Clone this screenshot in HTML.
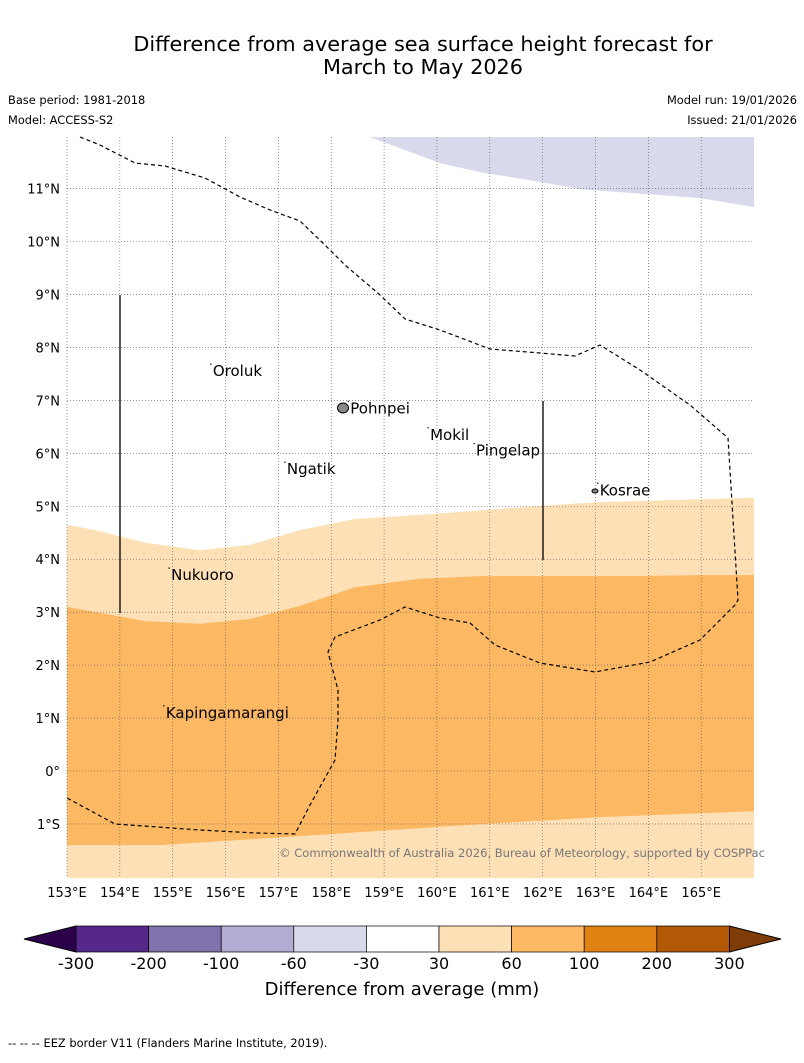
<!DOCTYPE html>
<html><head><meta charset="utf-8"><style>
body{margin:0;background:#fff;width:804px;height:1058px;overflow:hidden;font-family:"Liberation Sans","DejaVu Sans",sans-serif}
svg text{font-family:"DejaVu Sans","Liberation Sans",sans-serif}
</style></head><body>
<svg id="s" width="804" height="1058" xmlns="http://www.w3.org/2000/svg">
<text x="423" y="51" font-size="20.8" text-anchor="middle">Difference from average sea surface height forecast for</text>
<text x="423" y="74" font-size="20.8" text-anchor="middle">March to May 2026</text>
<text x="8" y="104" font-size="11.4">Base period: 1981-2018</text>
<text x="8" y="124" font-size="11.4">Model: ACCESS-S2</text>
<text x="797" y="104" font-size="11.4" text-anchor="end">Model run: 19/01/2026</text>
<text x="797" y="124" font-size="11.4" text-anchor="end">Issued: 21/01/2026</text>
<g id="map"></g>
<g id="cb"></g>
<text x="402" y="995" font-size="18" text-anchor="middle">Difference from average (mm)</text>
<text x="8" y="1047" font-size="11.4">--  --  -- EEZ border V11 (Flanders Marine Institute, 2019).</text>
</svg>
<script>
const NS="http://www.w3.org/2000/svg";
const lonTicks=[153,154,155,156,157,158,159,160,161,162,163,164,165];
const latTicks=[-1,0,1,2,3,4,5,6,7,8,9,10,11];
const purpleLon=[158.73,159.30,160.06,160.81,161.76,162.71,164.03,164.98,166];
const purpleLat=[11.97,11.76,11.48,11.31,11.16,10.99,10.89,10.82,10.65];
const lightTopLon=[153,153.53,154.48,155.52,156.46,157.41,158.45,159.87,161.19,162.14,163.09,164.60,166];
const lightTopLat=[4.65,4.55,4.31,4.17,4.27,4.55,4.76,4.85,4.95,5.02,5.08,5.12,5.16];
const medTopLon=[153,154.48,155.52,156.46,157.41,158.45,159.68,160.81,163.46,164.98,166];
const medTopLat=[3.10,2.83,2.78,2.87,3.12,3.47,3.63,3.68,3.68,3.70,3.70];
const medBotLon=[153,154.76,157.41,160.25,163.09,166];
const medBotLat=[-1.40,-1.40,-1.23,-1.04,-0.87,-0.76];
const islandNames=["Oroluk","Pohnpei","Mokil","Pingelap","Ngatik","Kosrae","Nukuoro","Kapingamarangi"];
const islandLon=[155.76,158.36,159.87,160.74,157.16,163.08,154.97,154.87];
const islandLat=[7.55,6.85,6.35,6.05,5.70,5.30,3.70,1.10];
const cbLabels=["-300","-200","-100","-60","-30","30","60","100","200","300"];
const cbColors=["#542788","#8073ac","#b2abd2","#d8daeb","#ffffff","#fee0b6","#fdb863","#e08214","#b35806"];
const L=67,R=754,T=137,B=878;
const X=lon=>L+(lon-153)*52.85, Y=lat=>771-lat*52.95;
const map=document.getElementById('map'), cb=document.getElementById('cb');
function el(t,a,p){const e=document.createElementNS(NS,t);for(const k in a)e.setAttribute(k,a[k]);(p||map).appendChild(e);return e;}
function pts(lo,la){return lo.map((v,i)=>X(v)+','+Y(la[i])).join(' ');}
let p=el('polygon',{points:pts(purpleLon,purpleLat)+` ${R},${T}`,fill:'#d8daeb'});

p=el('polygon',{points:pts(lightTopLon,lightTopLat)+` ${R},${B} ${L},${B}`,fill:'#fee0b6'});

const rb=medBotLon.slice().reverse(),rbl=medBotLat.slice().reverse();
p=el('polygon',{points:pts(medTopLon,medTopLat)+' '+pts(rb,rbl),fill:'#fdb863'});

lonTicks.forEach(v=>{const g=el('line',{x1:X(v),x2:X(v),y1:T,y2:B,stroke:'#555','stroke-width':0.6,'stroke-dasharray':'1,2'});

const t=el('text',{x:X(v),y:897,'font-size':13,'text-anchor':'middle'});t.textContent=v+'°E';
});
latTicks.forEach(v=>{const g=el('line',{x1:L,x2:R,y1:Y(v),y2:Y(v),stroke:'#555','stroke-width':0.6,'stroke-dasharray':'1,2'});

const t=el('text',{x:60,y:Y(v)+5,'font-size':13,'text-anchor':'end'});t.textContent=v===0?'0°':Math.abs(v)+(v<0?'°S':'°N');
});
const eez="80,137 100,145 135,163 165,166 205,178 240,197 270,210 300,221 330,250 345,265 380,295 405,319 440,330 490,349 540,353 575,356 600,345 640,370 690,405 728,438 738,600 735,605 700,640 650,662 595,672 540,663 495,645 470,623 440,618 405,607 380,620 335,637 328,652 338,690 338,720 335,760 310,805 295,834 255,833 200,830 115,824 67,798";
p=el('polyline',{points:eez,fill:'none',stroke:'#000','stroke-width':1.2,'stroke-dasharray':'4,3'});

p=el('line',{x1:120,x2:120,y1:295,y2:613,stroke:'#000','stroke-width':1.3});
p=el('line',{x1:543,x2:543,y1:401,y2:560,stroke:'#000','stroke-width':1.3});
p=el('ellipse',{cx:343,cy:408,rx:5.5,ry:5,fill:'#888',stroke:'#000'});
p=el('ellipse',{cx:595,cy:491,rx:3,ry:2,fill:'#888',stroke:'#000'});
islandNames.forEach((n,i)=>{const t=el('text',{x:X(islandLon[i]),y:Y(islandLat[i])+5,'font-size':15});t.textContent=n;

const d=el('circle',{cx:X(islandLon[i])-2,cy:Y(islandLat[i])-7,r:0.7,fill:'#000'});
});
p=el('text',{x:279,y:857,'font-size':11.6,fill:'#777'});p.textContent='© Commonwealth of Australia 2026, Bureau of Meteorology, supported by COSPPac';
p.setAttribute('textLength','486');

const cx0=76,cw=72.6,cy=926,ch=26;
p=el('polygon',{points:`24,939 ${cx0},${cy} ${cx0},${cy+ch}`,fill:'#2d004b',stroke:'#000'},cb);
p=el('polygon',{points:`781,939 ${cx0+9*cw},${cy} ${cx0+9*cw},${cy+ch}`,fill:'#7f3b08',stroke:'#000'},cb);
cbColors.forEach((c,i)=>{const r=el('rect',{x:cx0+i*cw,y:cy,width:cw,height:ch,fill:c,stroke:'#000','stroke-width':0.7},cb);
});
cbLabels.forEach((l,i)=>{const t=el('text',{x:cx0+i*cw,y:969,'font-size':16,'text-anchor':'middle'},cb);t.textContent=l;
});
</script>
</body></html>
